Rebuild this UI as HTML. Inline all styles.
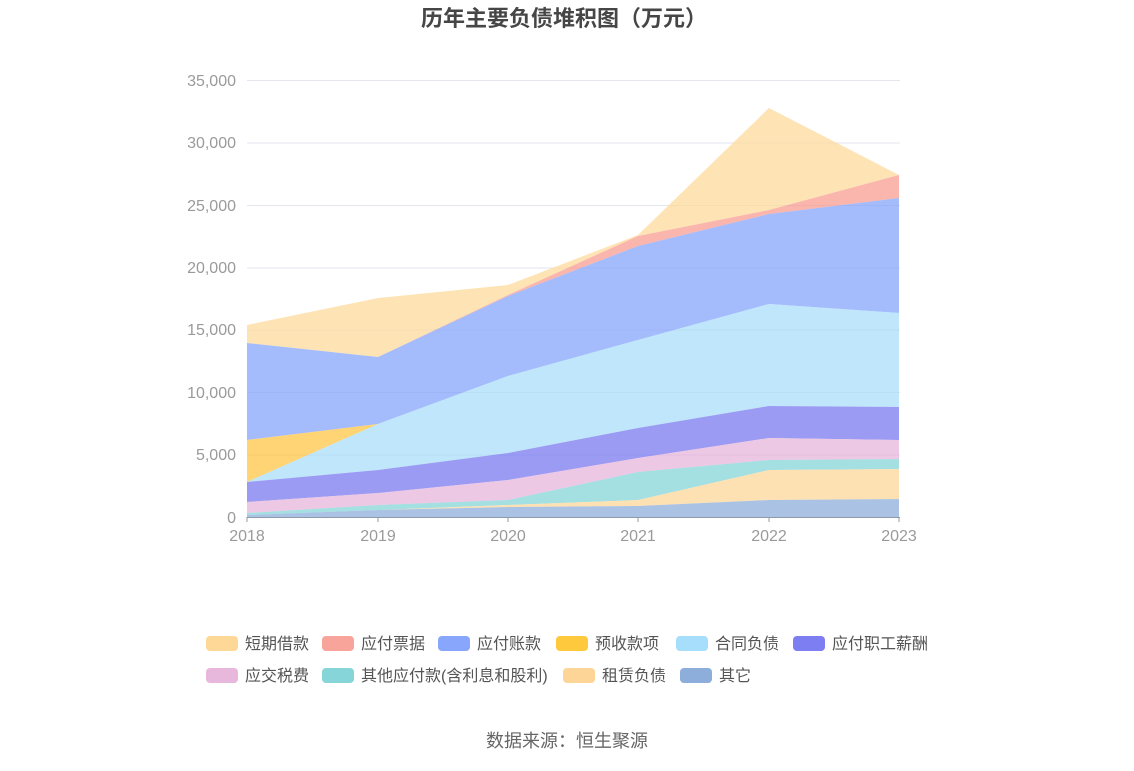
<!DOCTYPE html>
<html><head><meta charset="utf-8"><style>
body{margin:0;background:#fff;}
svg text{font-family:"Liberation Sans","Noto Sans CJK SC",sans-serif;}
</style></head><body>
<svg width="1134" height="766" xmlns="http://www.w3.org/2000/svg">
<text x="564" y="26" text-anchor="middle" font-size="22" font-weight="bold" fill="#464646">历年主要负债堆积图（万元）</text>
<g stroke="#e3e6ef" stroke-width="1">
<line x1="247" y1="80.5" x2="900" y2="80.5"/><line x1="247" y1="143" x2="900" y2="143"/>
<line x1="247" y1="205.5" x2="900" y2="205.5"/><line x1="247" y1="268" x2="900" y2="268"/>
<line x1="247" y1="330" x2="900" y2="330"/><line x1="247" y1="392.5" x2="900" y2="392.5"/>
<line x1="247" y1="455" x2="900" y2="455"/>
</g>
<g font-size="16" fill="#9a9a9a" text-anchor="end">
<text x="236" y="86">35,000</text><text x="236" y="148">30,000</text><text x="236" y="211">25,000</text>
<text x="236" y="273">20,000</text><text x="236" y="335">15,000</text><text x="236" y="398">10,000</text>
<text x="236" y="460">5,000</text><text x="236" y="523">0</text>
</g>
<g fill-opacity="0.7">
<polygon fill="#fdd896" points="247,325 378,298 508,285 638,235 769,108 899,175 899,175 769,210 638,236 508,295 378,357 247,343"/>
<polygon fill="#f8958a" points="247,343 378,357 508,295 638,236 769,210 899,175 899,198 769,214 638,246 508,296 378,357 247,343"/>
<polygon fill="#7f9ffb" points="247,343 378,357 508,296 638,246 769,214 899,198 899,313 769,304 638,340 508,376 378,424 247,440"/>
<polygon fill="#fec23a" points="247,440 378,424 508,376 508,376 378,424 247,482"/>
<polygon fill="#a5dcfa" points="247,482 378,424 508,376 638,340 769,304 899,313 899,407 769,406 638,428 508,453 378,470 247,482"/>
<polygon fill="#7071ef" points="247,482 378,470 508,453 638,428 769,406 899,407 899,440 769,438 638,458 508,480 378,493 247,502"/>
<polygon fill="#e5b1d8" points="247,502 378,493 508,480 638,458 769,438 899,440 899,459 769,460 638,472 508,500 378,505 247,513"/>
<polygon fill="#7ed2d4" points="247,513 378,505 508,500 638,472 769,460 899,459 899,469 769,470 638,500 508,505 378,510 247,515"/>
<polygon fill="#fdd493" points="247,515 378,510 508,505 638,500 769,470 899,469 899,499 769,500 638,506 508,507 378,510 247,515"/>
<polygon fill="#86a9d9" points="247,515 378,510 508,507 638,506 769,500 899,499 899,517 247,517"/>
</g>
<line x1="247" y1="517.5" x2="900" y2="517.5" stroke="#8f9aab" stroke-width="1"/>
<g stroke="#8f9aab"><line x1="247" y1="517" x2="247" y2="522"/><line x1="378" y1="517" x2="378" y2="522"/><line x1="508" y1="517" x2="508" y2="522"/><line x1="638" y1="517" x2="638" y2="522"/><line x1="769" y1="517" x2="769" y2="522"/><line x1="899" y1="517" x2="899" y2="522"/></g>
<g font-size="16" fill="#9a9a9a" text-anchor="middle">
<text x="247" y="541">2018</text><text x="378" y="541">2019</text><text x="508" y="541">2020</text><text x="638" y="541">2021</text><text x="769" y="541">2022</text><text x="899" y="541">2023</text>
</g>
<g font-size="16" fill="#555">
<rect x="206" y="636" width="32" height="15" rx="4" fill="#fdd896"/><text x="245" y="649">短期借款</text>
<rect x="322" y="636" width="32" height="15" rx="4" fill="#f9a49a"/><text x="361" y="649">应付票据</text>
<rect x="438" y="636" width="32" height="15" rx="4" fill="#88a6fb"/><text x="477" y="649">应付账款</text>
<rect x="556" y="636" width="32" height="15" rx="4" fill="#fec93c"/><text x="595" y="649">预收款项</text>
<rect x="676" y="636" width="32" height="15" rx="4" fill="#a7defb"/><text x="715" y="649">合同负债</text>
<rect x="793" y="636" width="32" height="15" rx="4" fill="#7d7ef1"/><text x="832" y="649">应付职工薪酬</text>
<rect x="206" y="668" width="32" height="15" rx="4" fill="#e7b8db"/><text x="245" y="681">应交税费</text>
<rect x="322" y="668" width="32" height="15" rx="4" fill="#86d5d8"/><text x="361" y="681">其他应付款(含利息和股利)</text>
<rect x="563" y="668" width="32" height="15" rx="4" fill="#fdd597"/><text x="602" y="681">租赁负债</text>
<rect x="680" y="668" width="32" height="15" rx="4" fill="#8daddb"/><text x="719" y="681">其它</text>
</g>
<text x="567" y="747" text-anchor="middle" font-size="18" fill="#666">数据来源：恒生聚源</text>
</svg>
</body></html>
